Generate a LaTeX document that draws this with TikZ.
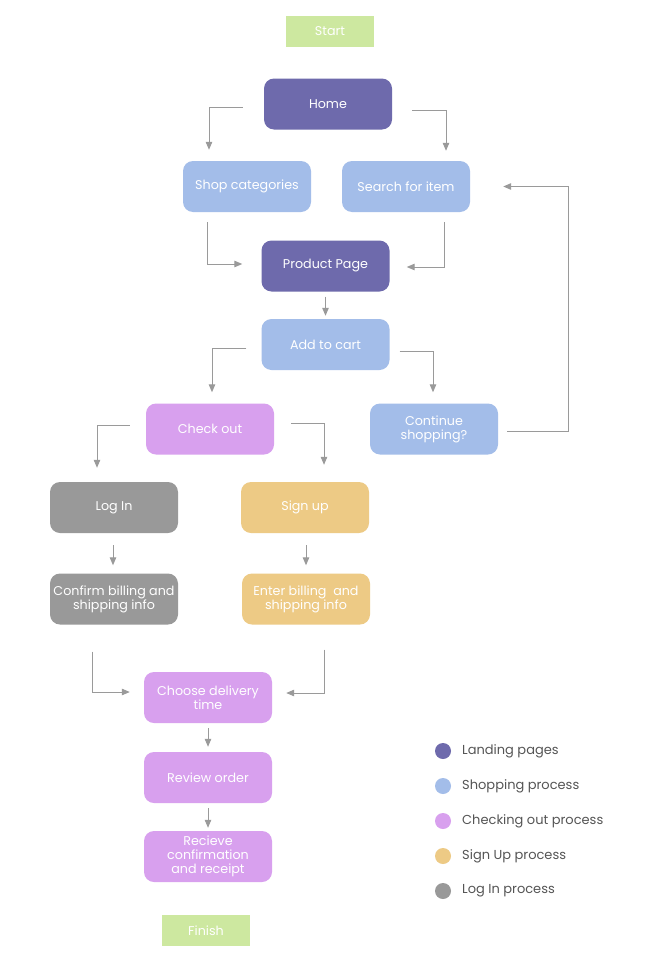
\documentclass[tikz,border=0pt]{standalone}
\usepackage{fontspec}
\setmainfont{Poppins}
\usetikzlibrary{arrows.meta,calc}
\definecolor{landing}{HTML}{6E6AAC}
\definecolor{shopping}{HTML}{A3BDE9}
\definecolor{checking}{HTML}{D8A0EE}
\definecolor{signupc}{HTML}{EDCA85}
\definecolor{loginc}{HTML}{999999}
\definecolor{startc}{HTML}{CDE8A0}
\definecolor{linec}{HTML}{9A9A9A}
\definecolor{legtext}{HTML}{555555}
\tikzset{
  box/.style={rounded corners=10pt, minimum width=128pt, minimum height=51pt, inner sep=0pt,
    text=white, align=center, font=\fontsize{12.7}{14}\selectfont},
  termbox/.style={fill=startc, minimum width=88pt, minimum height=31pt, inner sep=0pt,
    text=white, font=\fontsize{12.7}{14}\selectfont},
  conn/.style={draw=linec, line width=1pt, -{Triangle[length=8pt,width=6.5pt]}},
  legdot/.style={circle, minimum size=16pt, inner sep=0pt},
  legtxt/.style={anchor=west, text=legtext, font=\fontsize{13}{14}\selectfont, inner sep=0pt}
}
\begin{document}
\begin{tikzpicture}[x=1pt,y=-1pt]
\path[use as bounding box, fill=white] (0,0) rectangle (649,966);

\node[termbox] (start) at (330,31.5) {Start};
\node[box, fill=landing] (home) at (328,104) {Home};
\node[box, fill=shopping] (shop) at (247,186.5) {Shop categories};
\node[box, fill=shopping] (search) at (406,186.5) {Search for item};
\node[box, fill=landing] (product) at (325.5,266) {Product Page};
\node[box, fill=shopping] (cart) at (325.5,344.5) {Add to cart};
\node[box, fill=checking] (checkout) at (210,429) {Check out};
\node[box, fill=shopping] (cont) at (434,429) {Continue\\shopping?};
\node[box, fill=loginc] (login) at (114,507.5) {Log In};
\node[box, fill=signupc] (signup) at (305,507.5) {Sign up};
\node[box, fill=loginc] (confirm) at (114,599) {Confirm billing and\\shipping info};
\node[box, fill=signupc] (enter) at (306,599) {Enter billing\ \ and\\shipping info};
\node[box, fill=checking] (choose) at (208,697.5) {Choose delivery\\time};
\node[box, fill=checking] (review) at (208,777.5) {Review order};
\node[box, fill=checking] (receive) at (208,856.5) {Recieve\\confirmation\\and receipt};
\node[termbox] (finish) at (206,930.5) {Finish};

% connectors
\draw[conn] ($(home.west)+(-21,3)$) -| ($(shop.north)+(-38,-11)$);
\draw[conn] ($(home.east)+(20,6)$) -| ($(search.north)+(40,-10)$);
\draw[conn] ($(shop.south)+(-40,10)$) |- ($(product.west)+(-19,-2)$);
\draw[conn] ($(search.south)+(38,10)$) |- ($(product.east)+(17,1)$);
\draw[conn] ($(product.south)+(0,5)$) -- ($(cart.north)+(0,-3)$);
\draw[conn] ($(cart.west)+(-15,3.5)$) -| ($(checkout.north)+(2,-11)$);
\draw[conn] ($(cart.east)+(10,6.5)$) -| ($(cont.north)+(-1,-11)$);
\draw[conn] ($(cont.east)+(9,2)$) -- ++(61,0) |- ($(search.east)+(33,0)$);
\draw[conn] ($(checkout.west)+(-16,-4)$) -| ($(login.north)+(-17,-14)$);
\draw[conn] ($(checkout.east)+(17,-6)$) -| ($(signup.north)+(19,-17)$);
\draw[conn] ($(login.south)+(-1,12)$) -- ($(confirm.north)+(-1,-8)$);
\draw[conn] ($(signup.south)+(1,12)$) -- ($(enter.north)+(0,-8)$);
\draw[conn] ($(confirm.south)+(-22,27)$) |- ($(choose.west)+(-14,-5.5)$);
\draw[conn] ($(enter.south)+(18,25)$) |- ($(choose.east)+(14,-4.5)$);
\draw[conn] ($(choose.south)+(0,5)$) -- ($(review.north)+(0,-5)$);
\draw[conn] ($(review.south)+(0,5)$) -- ($(receive.north)+(0,-3)$);

% legend
\node[legdot, fill=landing] (l1) at (443,751) {};
\node[legtxt] (t1) at (462,751) {Landing pages};
\node[legdot, fill=shopping] (l2) at (443,786) {};
\node[legtxt] (t2) at (462,786) {Shopping process};
\node[legdot, fill=checking] (l3) at (443,821) {};
\node[legtxt] (t3) at (462,821) {Checking out process};
\node[legdot, fill=signupc] (l4) at (443,856) {};
\node[legtxt] (t4) at (462,856) {Sign Up process};
\node[legdot, fill=loginc] (l5) at (443,891) {};
\node[legtxt] (t5) at (462,891) {Log In process};
\end{tikzpicture}
\end{document}
